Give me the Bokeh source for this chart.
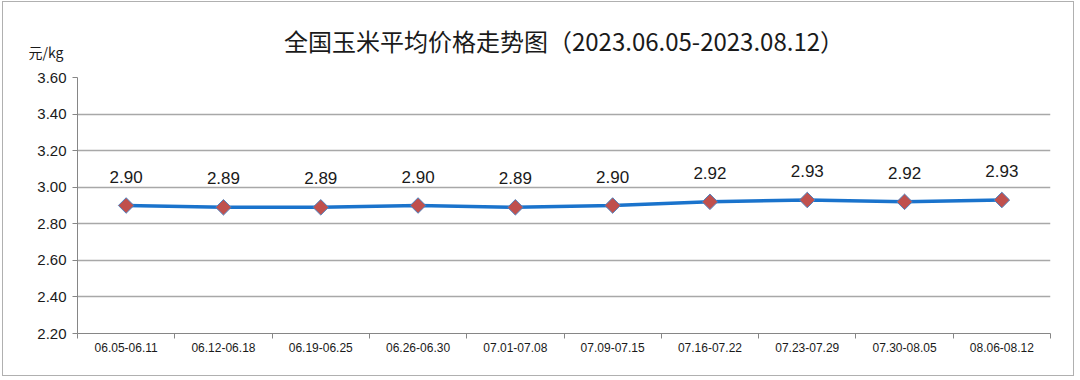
import math
from bokeh.plotting import figure
from bokeh.models import Range1d, FixedTicker, Title, ColumnDataSource, NumeralTickFormatter
from bokeh.core.properties import value
from bokeh.embed import file_html
from bokeh.resources import INLINE

categories = ["06.05-06.11", "06.12-06.18", "06.19-06.25", "06.26-06.30", "07.01-07.08",
              "07.09-07.15", "07.16-07.22", "07.23-07.29", "07.30-08.05", "08.06-08.12"]
prices = [2.90, 2.89, 2.89, 2.90, 2.89, 2.90, 2.92, 2.93, 2.92, 2.93]
y_ticks = [2.20, 2.40, 2.60, 2.80, 3.00, 3.20, 3.40, 3.60]
title_text = "全国玉米平均价格走势图（2023.06.05-2023.08.12）"
unit_text = "元/kg"

xs = [i + 0.5 for i in range(len(categories))]
src = ColumnDataSource(dict(x=xs, y=prices, lab=["%.2f" % v for v in prices]))

p = figure(width=1072, height=375, output_backend="svg", toolbar_location=None,
           x_range=Range1d(0, len(categories)), y_range=Range1d(2.20, 3.60),
           min_border_left=74, min_border_right=25, min_border_top=75, min_border_bottom=44)
p.styles = {"border": "1px solid #b0b0b0"}
p.margin = (1, 0, 0, 2)
p.outline_line_color = None
p.background_fill_color = "white"
p.border_fill_color = "white"

# titles
p.title.text = title_text
p.title.align = "center"
p.title.offset = -13
p.title.text_font = "Noto Sans CJK SC"
p.title.text_font_size = "24px"
p.title.text_font_style = "normal"
p.title.text_color = "#1a1a1a"
p.title.standoff = -68

unit_title = Title(text=unit_text, align="left", offset=-49, text_font="Noto Sans CJK SC",
                   text_font_size="14px", text_font_style="normal", text_color="#1a1a1a",
                   standoff=32)
p.add_layout(unit_title, "above")

# axes
xa = p.xaxis[0]
xa.ticker = FixedTicker(ticks=xs, minor_ticks=list(range(len(categories) + 1)))
xa.major_label_overrides = {x: c for x, c in zip(xs, categories)}
xa.major_tick_line_color = None
xa.minor_tick_in = 0
xa.minor_tick_out = 5
xa.minor_tick_line_color = "#868686"
xa.axis_line_color = "#868686"
xa.major_label_text_font = "Liberation Sans"
xa.major_label_text_font_size = "12px"
xa.major_label_text_color = "#1a1a1a"
xa.major_label_standoff = 3

ya = p.yaxis[0]
ya.ticker = FixedTicker(ticks=y_ticks)
ya.formatter = NumeralTickFormatter(format="0.00")
ya.major_tick_in = 0
ya.major_tick_out = 5
ya.major_tick_line_color = "#868686"
ya.minor_tick_line_color = None
ya.axis_line_color = "#868686"
ya.major_label_text_font = "Liberation Sans"
ya.major_label_text_font_size = "15px"
ya.major_label_text_color = "#1a1a1a"
ya.major_label_standoff = 6

p.xgrid.grid_line_color = None
p.ygrid.ticker = FixedTicker(ticks=y_ticks)
p.ygrid.grid_line_color = "#a8a8a8"
p.ygrid.grid_line_width = 1.5

p.line("x", "y", source=src, line_color="#1a73cc", line_width=3.5)
p.scatter("x", "y", source=src, marker="square", angle=math.pi / 4, size=11,
          fill_color="#C0504D", line_color="#4F81BD", line_width=1)
p.text("x", "y", text="lab", source=src, y_offset=-23, text_align="center",
       text_baseline="bottom", text_font=value("Liberation Sans"), text_font_size="17px",
       text_color="#1a1a1a")

open("out.html", "w").write(file_html(p, INLINE))
